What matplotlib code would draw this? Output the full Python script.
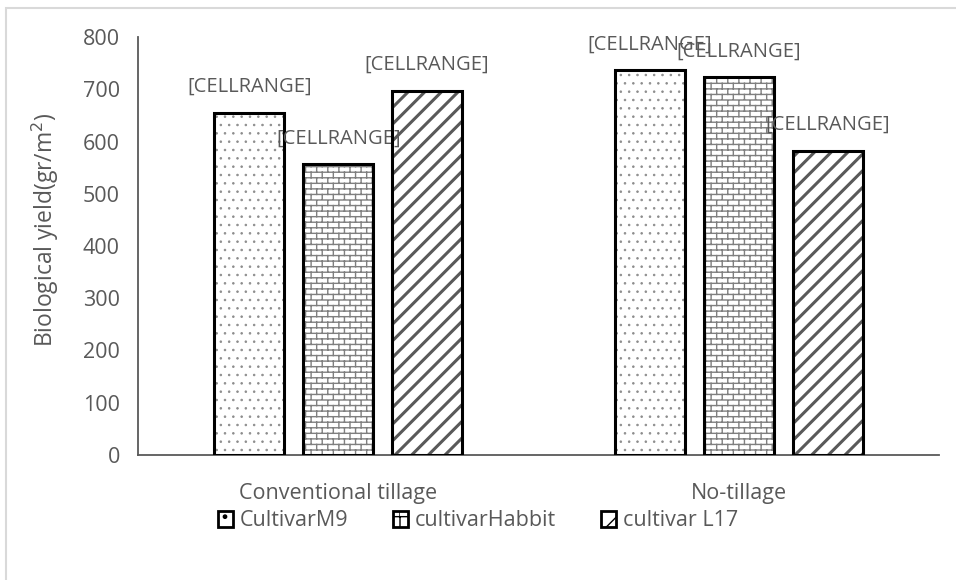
import matplotlib
matplotlib.use('Agg')
import matplotlib.pyplot as plt
import matplotlib.hatch as mhatch
from matplotlib.patches import Rectangle, Patch
import numpy as np


# Excel-like brick hatch, not in matplotlib by default
class BrickHatch(mhatch.HatchPatternBase):
    def __init__(self, hatch, density):
        self.n = hatch.count('b') * density
        self.m = self.n // 2
        if self.n:
            self.num_vertices = (self.n + 1) * 2 + self.n * (self.m + 1) * 2
        else:
            self.num_vertices = 0

    def set_vertices_and_codes(self, vertices, codes):
        k = 0
        for i in range(self.n + 1):
            y = i / self.n
            vertices[k] = (0, y)
            vertices[k + 1] = (1, y)
            k += 2
        for i in range(self.n):
            y0, y1 = i / self.n, (i + 1) / self.n
            shift = 0.5 * (i % 2)
            for j in range(self.m + 1):
                x = min((j + shift) / self.m, 1.0)
                vertices[k] = (x, y0)
                vertices[k + 1] = (x, y1)
                k += 2
        codes[0::2] = mhatch.Path.MOVETO
        codes[1::2] = mhatch.Path.LINETO


mhatch._hatch_types.append(BrickHatch)
mhatch._validate_hatch_pattern = lambda h: None

categories = ['Conventional tillage', 'No-tillage']
series = ['CultivarM9', 'cultivarHabbit', 'cultivar L17']
m9 = [655, 737]
habbit = [556, 723]
l17 = [697, 582]
values = [m9, habbit, l17]
hatches = ['..', 'bbb', '//']
hatch_colors = ['#8c8c8c', '#7f7f7f', '#595959']
hatch_widths = [0.6, 1.0, 2.2]

grey = '#595959'
font = 'Open Sans'
fs = 15.5

fig = plt.figure(figsize=(9.56, 5.80), dpi=100)
ax = fig.add_axes([138 / 956, 1 - 455 / 580, (939 - 138) / 956, (455 - 37) / 580])

x = np.arange(len(categories))
width = 0.175
offsets = [-0.222, 0, 0.222]

for vals, h, hc, hw, off, name in zip(values, hatches, hatch_colors, hatch_widths, offsets, series):
    plt.rcParams['hatch.linewidth'] = hw
    bars = ax.bar(x + off, vals, width, facecolor='white', edgecolor=hc, hatch=h, linewidth=0)
    for b in bars:
        if hasattr(b, 'set_hatch_linewidth'):
            b.set_hatch_linewidth(hw)
    ax.bar(x + off, vals, width, facecolor='none', edgecolor='black', linewidth=2.2, zorder=3)
    for xi, v in zip(x + off, vals):
        ax.annotate('[CELLRANGE]', (xi, v), xytext=(0, 18.5), textcoords='offset points',
                    ha='center', va='center', fontsize=14.5, color=grey, family=font)

ax.set_xlim(-0.5, 1.5)
ax.set_ylim(0, 800)
ax.set_yticks(range(0, 801, 100))
ax.set_xticks(x)
ax.set_xticklabels(categories)
for s in ['top', 'right']:
    ax.spines[s].set_visible(False)
for s in ['left', 'bottom']:
    ax.spines[s].set_color(grey)
    ax.spines[s].set_linewidth(1.3)
ax.tick_params(length=0, labelsize=fs, labelcolor=grey, pad=13)
ax.tick_params(axis='x', pad=20)
for lab in ax.get_xticklabels() + ax.get_yticklabels():
    lab.set_family(font)

fig.text(45 / 956, 1 - 230 / 580, 'Biological yield(gr/m$^2$)', rotation=90,
         ha='center', va='center', fontsize=16.5, color=grey, family=font)

plt.rcParams['hatch.linewidth'] = 1.0
handles = []
for h, name in zip(['.', 'b', '/'], series):
    handles.append(Patch(facecolor='white', edgecolor='black', hatch=h, linewidth=2, label=name))
leg = fig.legend(handles=handles, loc='center', bbox_to_anchor=(0.5, 1 - 521 / 580), ncol=3,
                 frameon=False, prop={'family': font, 'size': fs}, handlelength=0.7,
                 handleheight=0.7, handletextpad=0.3, columnspacing=2.1, labelcolor=grey)

# light outer frame of the chart area
fig.patches.append(Rectangle((6 / 956, -0.1), 1.2, 1.1 - 8 / 580, transform=fig.transFigure,
                             fill=False, edgecolor='#d9d9d9', linewidth=1.5))

fig.savefig('out.png', dpi=100)
